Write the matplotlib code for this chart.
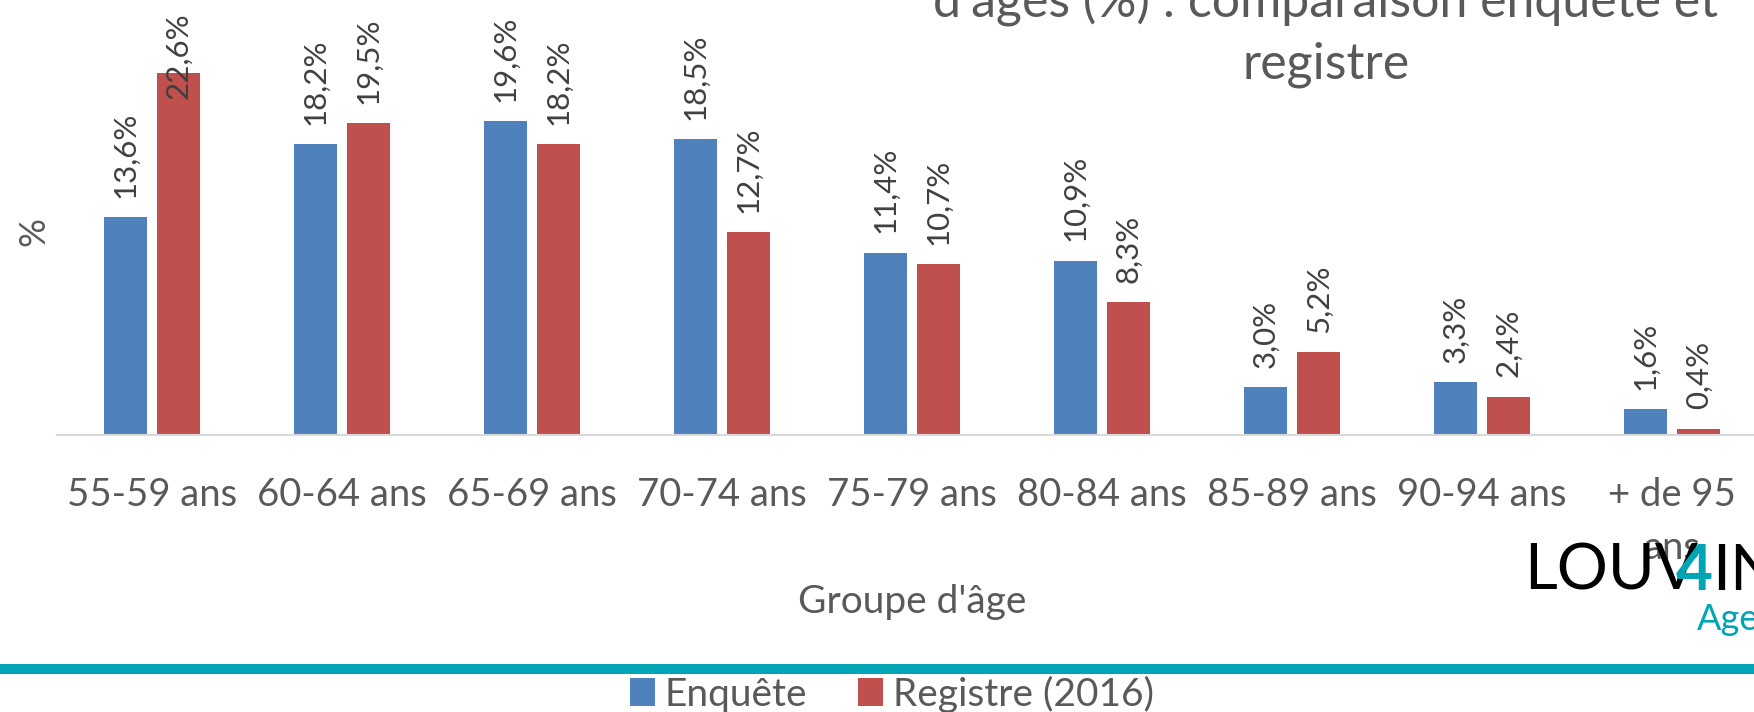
import matplotlib.pyplot as plt
import numpy as np

plt.rcParams['font.family'] = ['Lato', 'DejaVu Sans']

# données
groupes = ['55-59 ans', '60-64 ans', '65-69 ans', '70-74 ans', '75-79 ans',
           '80-84 ans', '85-89 ans', '90-94 ans', '+ de 95\nans']
enquete = [13.6, 18.2, 19.6, 18.5, 11.4, 10.9, 3.0, 3.3, 1.6]
registre = [22.6, 19.5, 18.2, 12.7, 10.7, 8.3, 5.2, 2.4, 0.4]

bleu = '#4F81BD'
rouge = '#C0504D'
gris = '#595959'
turquoise = '#00A5B5'

fig = plt.figure(figsize=(17.54, 7.12), dpi=100)
# l'axe déborde à droite comme sur la capture d'origine
ax = fig.add_axes([57 / 1754, 1 - 435 / 712, 1710 / 1754, 400 / 712])

x = np.arange(len(groupes))
w = 0.226
b1 = ax.bar(x - 0.14, enquete, w, color=bleu, label='Enquête')
b2 = ax.bar(x + 0.14, registre, w, color=rouge, label='Registre (2016)')

ax.set_xlim(-0.5, len(groupes) - 0.5)
ax.set_ylim(0, 25)

# étiquettes de valeurs (rognées en haut comme dans Excel)
haut = 26.4
for bars, vals in ((b1, enquete), (b2, registre)):
    for r, v in zip(bars, vals):
        txt = f'{v:.1f}%'.replace('.', ',')
        cx = r.get_x() + r.get_width() / 2
        if v + 1.2 + 5.6 > haut:
            ax.text(cx, haut, txt, rotation=90, ha='center', va='top',
                    fontsize=22.5, color='#404040')
        else:
            ax.text(cx, v + 1.2, txt, rotation=90, ha='center', va='bottom',
                    fontsize=22.5, color='#404040')

for s in ['top', 'right', 'left']:
    ax.spines[s].set_visible(False)
ax.spines['bottom'].set_color('#D9D9D9')
ax.spines['bottom'].set_linewidth(1.5)
ax.set_yticks([])
ax.set_xticks(x)
ax.set_xticklabels(groupes, fontsize=27.5, color=gris, linespacing=1.6)
ax.tick_params(axis='x', length=0, pad=30)

fig.text(34 / 1754, 1 - 232 / 712, '%', rotation=90, ha='center', va='center',
         fontsize=26, color=gris)
fig.text(912 / 1754, 1 - 602 / 712, "Groupe d'âge", ha='center', va='center',
         fontsize=28, color=gris)

# titre (coupé en haut)
fig.text(1326 / 1754, 1 - 17 / 712, "d'âges (%) : comparaison enquête et",
         ha='center', va='baseline', fontsize=36, color=gris)
fig.text(1326 / 1754, 1 - 78 / 712, "registre",
         ha='center', va='baseline', fontsize=36, color=gris)

# bandeau et légende
fig.add_artist(plt.Line2D([0, 1], [1 - 669 / 712, 1 - 669 / 712],
                          color=turquoise, lw=7.2, transform=fig.transFigure))
fig.legend(handles=[b1, b2], loc='center', bbox_to_anchor=(892 / 1754, 1 - 694 / 712),
           ncol=2, frameon=False, fontsize=28, labelcolor=gris,
           handlelength=0.65, handleheight=0.7, handletextpad=0.25, columnspacing=1.3)

# logo
fig.text(1524 / 1754, 1 - 590 / 712, 'LOUV', fontsize=46, color='black',
         va='baseline', ha='left')
fig.text(1676 / 1754, 1 - 590 / 712, '4', fontsize=46, color=turquoise,
         va='baseline', ha='left', fontweight='bold')
fig.text(1712 / 1754, 1 - 590 / 712, 'IN', fontsize=46, color='black',
         va='baseline', ha='left')
fig.text(1697 / 1754, 1 - 630 / 712, 'Ageing', fontsize=26, color=turquoise,
         va='baseline', ha='left')

fig.savefig('out.png', dpi=100)
